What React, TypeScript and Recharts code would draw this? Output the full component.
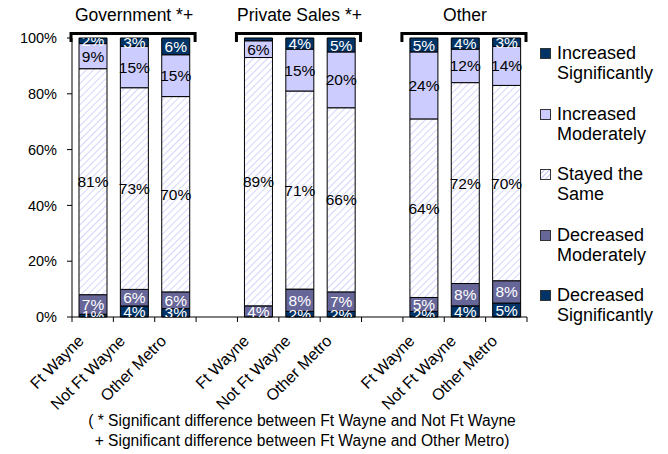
import React from "react";
import { BarChart, Bar, XAxis, YAxis, LabelList } from "recharts";

// ---- data ----
const categories = ["Ft Wayne", "Not Ft Wayne", "Other Metro", "", "Ft Wayne", "Not Ft Wayne", "Other Metro", "", "Ft Wayne", "Not Ft Wayne", "Other Metro"];
const groupTitles = ["Government *+", "Private Sales *+", "Other"];
const groupCenterIndex = [1, 5, 9];

const decSig = [1, 4, 3, 0, 0, 2, 2, 0, 2, 4, 5];
const decMod = [7, 6, 6, 0, 4, 8, 7, 0, 5, 8, 8];
const same = [81, 73, 70, 0, 89, 71, 66, 0, 64, 72, 70];
const incMod = [9, 15, 15, 0, 6, 15, 20, 0, 24, 12, 14];
const incSig = [2, 3, 6, 0, 1, 4, 5, 0, 5, 4, 3];

const yTicks = [0, 0.2, 0.4, 0.6, 0.8, 1];
const footnote = [
  "( * Significant difference between Ft Wayne and Not Ft Wayne",
  "+ Significant difference between Ft Wayne and Other Metro)",
];

const hiddenLabels: Record<string, number[]> = { incSig: [4] };

const series = [
  { key: "decSig", name: "Decreased Significantly", fill: "#003366", text: "#ffffff" },
  { key: "decMod", name: "Decreased Moderately", fill: "#666699", text: "#ffffff" },
  { key: "same", name: "Stayed the Same", fill: "url(#hatch)", text: "#000000" },
  { key: "incMod", name: "Increased Moderately", fill: "#ccccff", text: "#000000" },
  { key: "incSig", name: "Increased Significantly", fill: "#003366", text: "#ffffff" },
];
const legendOrder = ["incSig", "incMod", "same", "decMod", "decSig"];

const data = categories.map((c, i) => ({
  idx: i,
  decSig: decSig[i],
  decMod: decMod[i],
  same: same[i],
  incMod: incMod[i],
  incSig: incSig[i],
}));

// ---- layout ----
const W = 668;
const H = 454;
const M = { top: 38, right: 141, bottom: 0, left: 0 };
const Y_AXIS_W = 72;
const X_AXIS_H = 137;
const PLOT_X = M.left + Y_AXIS_W;
const PLOT_Y = M.top;
const PLOT_W = W - M.right - PLOT_X;
const PLOT_H = H - M.bottom - X_AXIS_H - PLOT_Y;
const PLOT_BOTTOM = PLOT_Y + PLOT_H;
const BAND = PLOT_W / categories.length;
const FONT = "'Liberation Sans', Arial, sans-serif";

function CategoryTick(props: any) {
  const { x, payload } = props;
  const i = payload.index != null ? payload.index : payload.value;
  const label = categories[i];
  const left = x - BAND / 2;
  const gi = groupCenterIndex.indexOf(i);
  const ax = x - 8;
  const ay = PLOT_BOTTOM + 25;
  return (
    <g>
      <line x1={left} y1={PLOT_BOTTOM} x2={left} y2={PLOT_BOTTOM + 5} stroke="#000" />
      {i === categories.length - 1 && (
        <line x1={x + BAND / 2} y1={PLOT_BOTTOM} x2={x + BAND / 2} y2={PLOT_BOTTOM + 5} stroke="#000" />
      )}
      {label && (
        <text x={ax} y={ay} transform={`rotate(-45, ${ax}, ${ay})`} textAnchor="end" fontSize={16} fill="#000" fontFamily={FONT}>
          {label}
        </text>
      )}
      {gi >= 0 && (
        <g>
          <path
            d={`M${x - 1.5 * BAND - 1},${PLOT_Y + 4} L${x - 1.5 * BAND - 1},${PLOT_Y - 4.5} L${x + 1.5 * BAND - 1},${PLOT_Y - 4.5} L${x + 1.5 * BAND - 1},${PLOT_Y + 4}`}
            fill="none"
            stroke="#000"
            strokeWidth={3}
          />
          <text x={x} y={PLOT_Y - 17} textAnchor="middle" fontSize={17.5} fill="#000" fontFamily={FONT}>
            {groupTitles[gi]}
          </text>
        </g>
      )}
    </g>
  );
}

function makeLabel(key: string, color: string) {
  return (props: any) => {
    const { x, y, width, height, value } = props;
    if (!value) return null;
    const cat = Math.floor((x + width / 2 - PLOT_X) / BAND);
    if (hiddenLabels[key] && hiddenLabels[key].includes(cat)) return null;
    return (
      <text
        x={x + width / 2}
        y={y + height / 2}
        dy="0.36em"
        textAnchor="middle"
        fontSize={15.5}
        fill={color}
        fontFamily={FONT}
        clipPath="url(#plotClip)"
      >
        {`${value}%`}
      </text>
    );
  };
}

export default function App() {
  return (
    <div style={{ position: "absolute", left: 0, top: 0, width: W, height: H, background: "#fff", fontFamily: FONT }}>
      <svg width={0} height={0} style={{ position: "absolute" }}>
        <defs>
          <pattern id="hatch" width={5} height={5} patternUnits="userSpaceOnUse" patternTransform="rotate(45)">
            <rect width={5} height={5} fill="#ffffff" />
            <line x1={0} y1={0} x2={0} y2={5} stroke="#d4d4ff" strokeWidth={2} />
          </pattern>
          <clipPath id="plotClip" clipPathUnits="userSpaceOnUse">
            <rect x={PLOT_X} y={PLOT_Y} width={PLOT_W} height={PLOT_H} />
          </clipPath>
        </defs>
      </svg>
      <BarChart width={W} height={H} data={data} margin={M} stackOffset="expand">
        <XAxis
          dataKey="idx"
          type="category"
          height={X_AXIS_H}
          interval={0}
          tickLine={false}
          axisLine={{ stroke: "#000" }}
          tick={<CategoryTick />}
        />
        <YAxis
          width={Y_AXIS_W}
          domain={[0, 1]}
          ticks={yTicks}
          tickFormatter={(v: number) => `${Math.round(v * 100)}%`}
          tickSize={5}
          tickMargin={10}
          axisLine={{ stroke: "#000" }}
          tickLine={{ stroke: "#000" }}
          tick={{ fill: "#000", fontSize: 14.5, fontFamily: FONT }}
        />
        {series.map((s) => (
          <Bar key={s.key} dataKey={s.key} stackId="a" fill={s.fill} stroke="#000" strokeWidth={1} barSize={28} isAnimationActive={false}>
            <LabelList dataKey={s.key} content={makeLabel(s.key, s.text)} />
          </Bar>
        ))}
      </BarChart>
      {legendOrder.map((k, i) => {
        const s = series.find((q) => q.key === k)!;
        const top = 43 + i * 60.5;
        const words = s.name.split(" ");
        const line1 = words.length > 2 ? words.slice(0, 2).join(" ") : words[0];
        const line2 = words.length > 2 ? words.slice(2).join(" ") : words.slice(1).join(" ");
        return (
          <div key={k} style={{ position: "absolute", left: 540, top, width: 128 }}>
            <div
              style={{
                position: "absolute",
                left: 0,
                top: 5,
                width: 9,
                height: 9,
                border: "1px solid #333",
                background: k === "same" ? "repeating-linear-gradient(135deg, #ffffff 0px, #ffffff 2px, #d4d4ff 2px, #d4d4ff 3.5px)" : s.fill,
              }}
            />
            <div style={{ position: "absolute", left: 17, top: 0, fontSize: 18, lineHeight: "20px", color: "#000", width: 120, whiteSpace: "nowrap" }}>
              {line1}
              <br />
              {line2}
            </div>
          </div>
        );
      })}
      <div style={{ position: "absolute", left: 0, top: 411, width: 604, textAlign: "center", fontSize: 15.6, lineHeight: "20px", color: "#000" }}>
        {footnote[0]}
        <br />
        {footnote[1]}
      </div>
    </div>
  );
}
